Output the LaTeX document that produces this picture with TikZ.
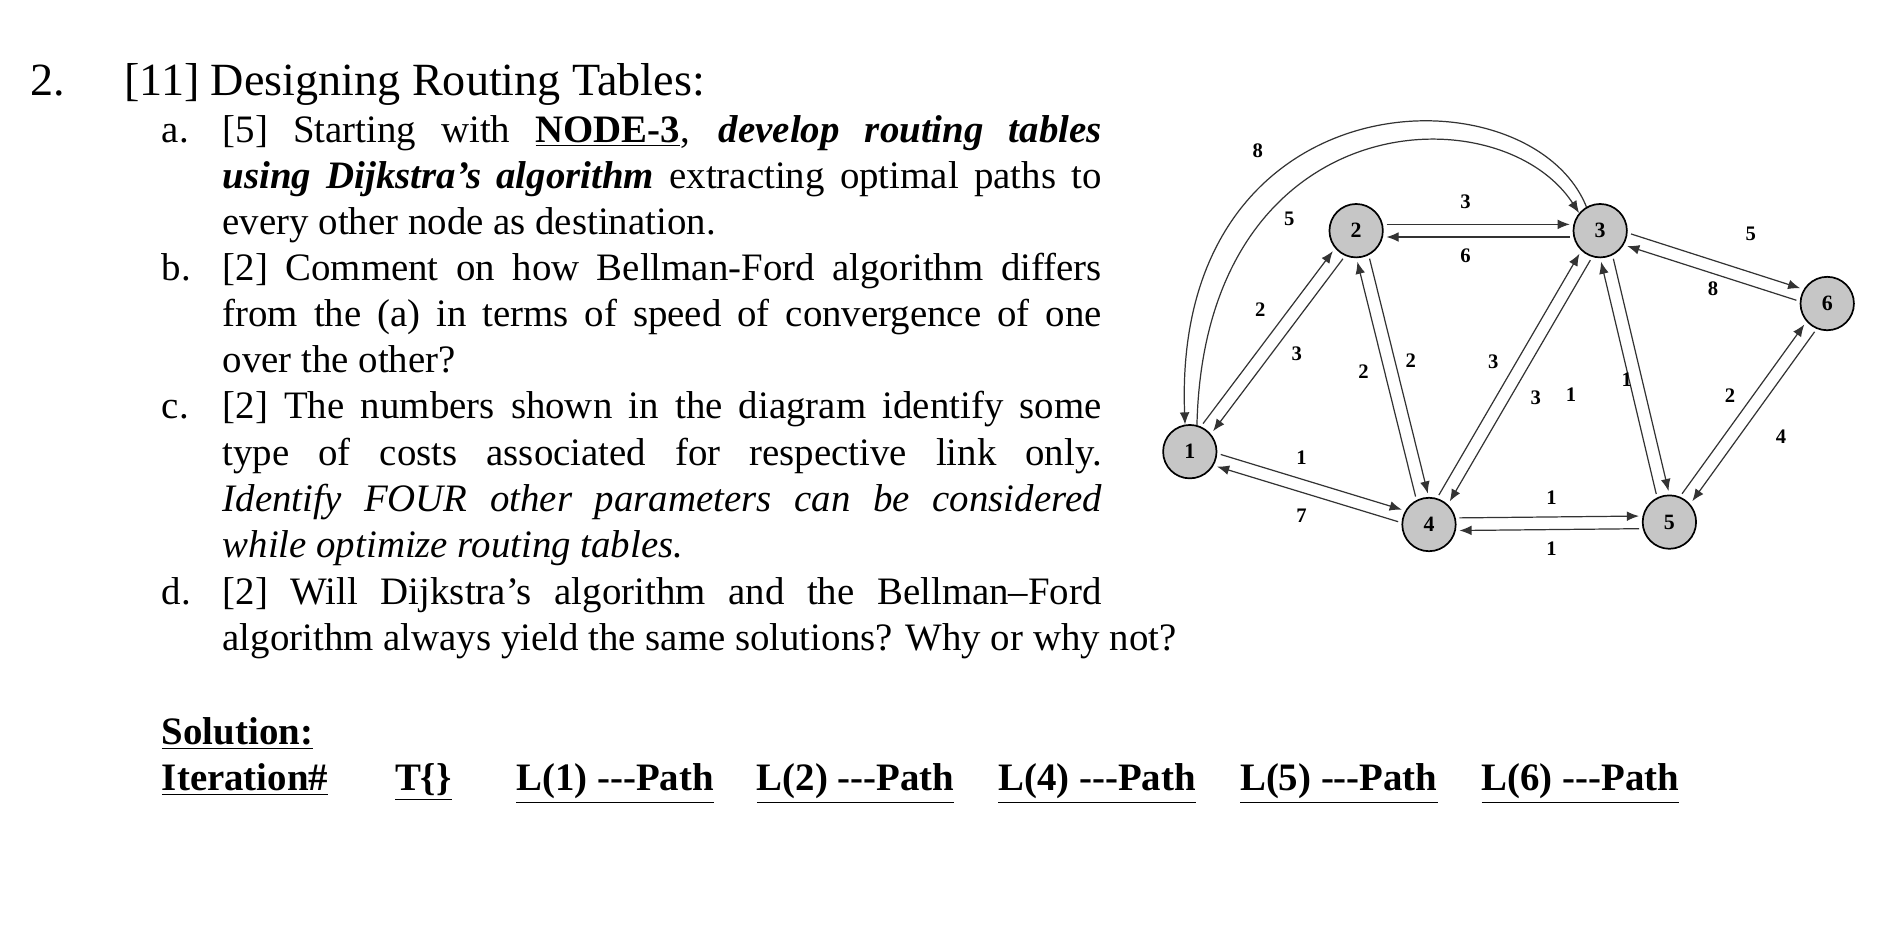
\documentclass[tikz,border=0pt]{standalone}
\usepackage{fontspec}
\setmainfont{Liberation Serif}
\usetikzlibrary{calc,arrows.meta}
\newcommand\ul[1]{\underline{#1}}
\newcommand\linkarr[2]{\draw[arr] ($(#1)!12.5pt!(#2)!2.6pt!90:(#2)$) -- ($(#2)!12.5pt!(#1)!2.6pt!-90:(#1)$);}
\begin{document}
\begin{tikzpicture}[x=0.5pt,y=-0.5pt,
  txt/.style={anchor=base west,inner sep=0pt,font=\fontsize{16}{19}\selectfont},
  hd/.style={anchor=base west,inner sep=0pt,font=\fontsize{19}{22}\selectfont},
  vtx/.style={circle,draw=black,fill=gray!45,line width=0.7pt,minimum size=22pt,inner sep=0pt,font=\bfseries\fontsize{9}{9}\selectfont},
  arr/.style={-{Latex[length=5pt,width=4pt]},line width=0.5pt,black!80},
  lbl/.style={font=\bfseries\fontsize{8.5}{8.5}\selectfont,inner sep=0pt}]
\useasboundingbox (0,0) rectangle (1560,773);
\fill[white] (0,0) rectangle (1560,773);
\def\W{362pt}
\def\dsh{-{}-{}-}
% heading
\node[hd] (h0) at (25,79) {2.};
\node[hd] (h1) at (102,79) {[11] Designing Routing Tables:};
% item a
\node[txt] (a0) at (133,117) {a.};
\node[txt] (a1) at (183,117) {\makebox[\W][s]{[5] Starting with \textbf{\ul{NODE-3}}, \textbf{\itshape develop routing tables}}};
\node[txt] (a2) at (183,155) {\makebox[\W][s]{\textbf{\itshape using Dijkstra’s algorithm} extracting optimal paths to}};
\node[txt] (a3) at (183,193) {every other node as destination.};
% item b
\node[txt] (b0) at (133,231) {b.};
\node[txt] (b1) at (183,231) {\makebox[\W][s]{[2] Comment on how Bellman-Ford algorithm differs}};
\node[txt] (b2) at (183,269) {\makebox[\W][s]{from the (a) in terms of speed of convergence of one}};
\node[txt] (b3) at (183,307) {over the other?};
% item c
\node[txt] (c0) at (133,345) {c.};
\node[txt] (c1) at (183,345) {\makebox[\W][s]{[2] The numbers shown in the diagram identify some}};
\node[txt] (c2) at (183,383) {\makebox[\W][s]{type of costs associated for respective link only.}};
\node[txt] (c3) at (183,421) {\makebox[\W][s]{\itshape Identify FOUR other parameters can be considered}};
\node[txt] (c4) at (183,459) {\itshape while optimize routing tables.};
% item d
\node[txt] (d0) at (133,498) {d.};
\node[txt] (d1) at (183,498) {\makebox[\W][s]{[2] Will Dijkstra’s algorithm and the Bellman–Ford}};
\node[txt] (d2) at (183,536) {algorithm always yield the same solutions? Why or why not?};
% solution
\tikzset{sol/.style={txt,font=\bfseries\fontsize{16}{19}\selectfont}}
\node[sol] (s0) at (133,613) {\ul{Solution:}};
\node[sol] (s1) at (133,651) {\ul{Iteration\#}};
\node[sol] (s2) at (325,651) {\ul{T\{\}}};
\node[sol] (s3) at (425,651) {\ul{L(1) \dsh Path}};
\node[sol] (s4) at (623,651) {\ul{L(2) \dsh Path}};
\node[sol] (s5) at (822,651) {\ul{L(4) \dsh Path}};
\node[sol] (s6) at (1021,651) {\ul{L(5) \dsh Path}};
\node[sol] (s7) at (1220,651) {\ul{L(6) \dsh Path}};
% graph
\node[vtx] (n1) at (980,372) {1};
\node[vtx] (n2) at (1117,190) {2};
\node[vtx] (n3) at (1318,190) {3};
\node[vtx] (n4) at (1177,432) {4};
\node[vtx] (n5) at (1375,430) {5};
\node[vtx] (n6) at (1505,250) {6};
\linkarr{n1}{n2}\linkarr{n2}{n1}
\linkarr{n2}{n3}\linkarr{n3}{n2}
\linkarr{n2}{n4}\linkarr{n4}{n2}
\linkarr{n3}{n4}\linkarr{n4}{n3}
\linkarr{n3}{n5}\linkarr{n5}{n3}
\linkarr{n3}{n6}\linkarr{n6}{n3}
\linkarr{n5}{n6}\linkarr{n6}{n5}
\linkarr{n1}{n4}\linkarr{n4}{n1}
\linkarr{n4}{n5}\linkarr{n5}{n4}
\draw[arr] (n3.120) .. controls (1260,55) and (965,60) .. (n1.100);
\draw[arr] (n1.75) .. controls (992,85) and (1235,75) .. (n3.140);
% labels
\node[lbl] (l1) at (1036,124) {8};
\node[lbl] (l2) at (1062,180) {5};
\node[lbl] (l3) at (1038,255) {2};
\node[lbl] (l4) at (1068,291) {3};
\node[lbl] (l5) at (1207,166) {3};
\node[lbl] (l6) at (1207,211) {6};
\node[lbl] (l7) at (1123,306) {2};
\node[lbl] (l8) at (1162,297) {2};
\node[lbl] (l9) at (1230,298) {3};
\node[lbl] (l10) at (1265,328) {3};
\node[lbl] (l11) at (1294,325) {1};
\node[lbl] (l12) at (1340,313) {1};
\node[lbl] (l13) at (1442,193) {5};
\node[lbl] (l14) at (1411,238) {8};
\node[lbl] (l15) at (1425,326) {2};
\node[lbl] (l16) at (1467,360) {4};
\node[lbl] (l17) at (1072,377) {1};
\node[lbl] (l18) at (1072,425) {7};
\node[lbl] (l19) at (1278,410) {1};
\node[lbl] (l20) at (1278,452) {1};
\end{tikzpicture}
\end{document}
